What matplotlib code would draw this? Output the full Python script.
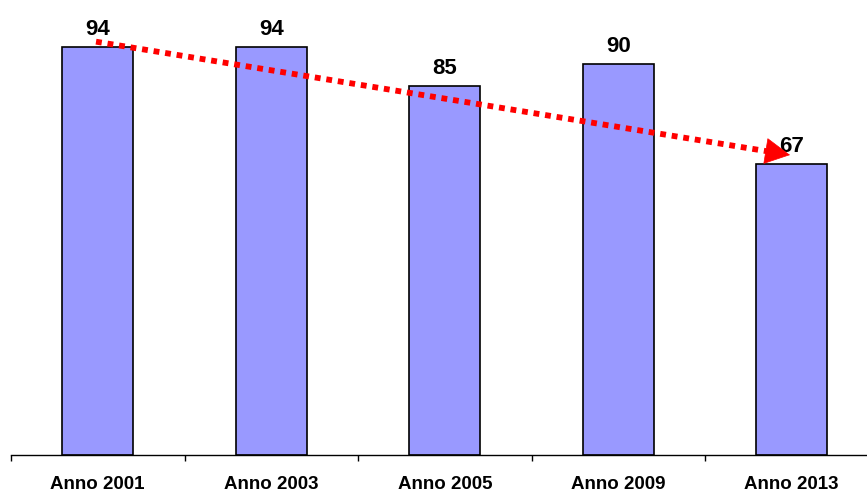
import matplotlib.pyplot as plt

years = ["Anno 2001", "Anno 2003", "Anno 2005", "Anno 2009", "Anno 2013"]
values = [94, 94, 85, 90, 67]

# trend arrow, from the first bar towards the last one
trend_x = [-0.01, 3.99]
trend_y = [95.2, 69.1]

plt.rcParams["font.family"] = ["Liberation Sans", "DejaVu Sans"]

fig = plt.figure(figsize=(8.67, 4.92), dpi=100)
ax = fig.add_axes([11 / 867, 37 / 492, 867.5 / 867, 455 / 492])

xs = range(len(values))
ax.bar(xs, values, width=0.41, color="#9999FF", edgecolor="black", linewidth=1.2)

for x, v in zip(xs, values):
    ax.annotate(str(v), (x, v), xytext=(0, 5), textcoords="offset points",
                ha="center", va="bottom", fontsize=16, fontweight="bold")

# dotted body, then a solid head on the last bit
frac = 0.024
base_x = trend_x[1] - frac * (trend_x[1] - trend_x[0])
base_y = trend_y[1] - frac * (trend_y[1] - trend_y[0])
ax.plot([trend_x[0], base_x], [trend_y[0], base_y], color="red", lw=4.2,
        linestyle=(0, (1, 1)), solid_capstyle="butt", dash_capstyle="butt")
ax.annotate("", xy=(trend_x[1], trend_y[1]), xytext=(base_x, base_y),
            arrowprops=dict(arrowstyle="-|>,head_length=0.95,head_width=0.5",
                            color="red", lw=0.5, shrinkA=0, shrinkB=0,
                            mutation_scale=18))

ax.set_xlim(-0.5, len(values) - 0.5)
ax.set_ylim(0, 104.8)
ax.set_xticks([i - 0.5 for i in range(len(values) + 1)])
ax.set_xticklabels([])
ax.set_xticks(list(xs), minor=True)
ax.set_xticklabels(years, minor=True, fontsize=13.5, fontweight="bold")
ax.tick_params(axis="x", which="major", direction="out", length=4, width=1)
ax.tick_params(axis="x", which="minor", length=0, pad=15)
ax.set_yticks([])
for side in ["top", "right", "left"]:
    ax.spines[side].set_visible(False)
ax.spines["bottom"].set_linewidth(1)

fig.savefig("out.png", dpi=100)
